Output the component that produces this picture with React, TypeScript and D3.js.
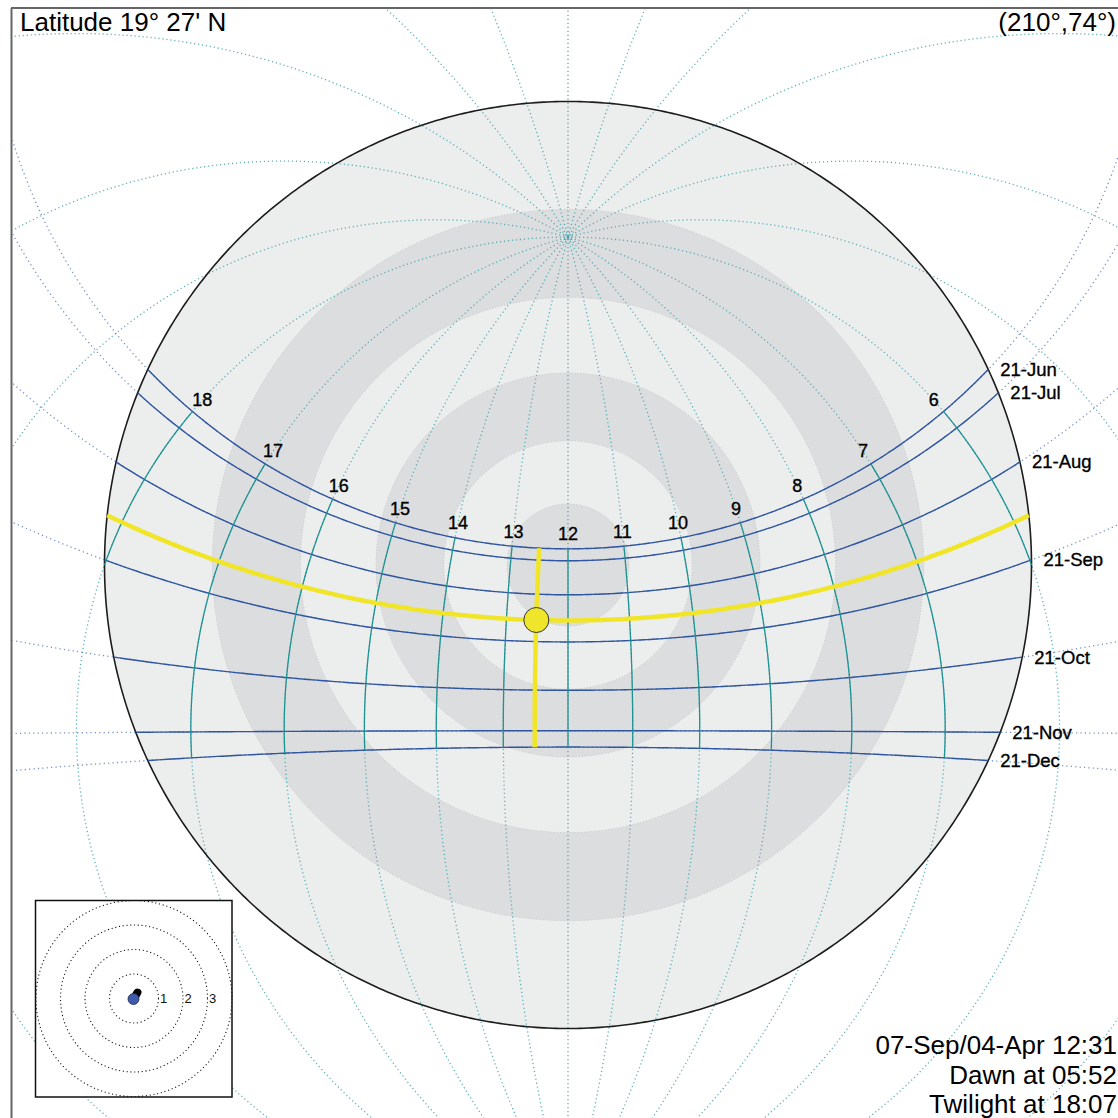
import React from "react";
import * as d3 from "d3";

// Site latitude: 19° 27' N
const LATITUDE = 19 + 27 / 60;

// Sun-path date lines and their solar declinations (degrees)
const DATE_LABELS = ["21-Jun", "21-Jul", "21-Aug", "21-Sep", "21-Oct", "21-Nov", "21-Dec"];
const DATE_DECLINATIONS = [23.44, 20.5, 12.1, 0.6, -10.8, -19.9, -23.44];

// Labelled solar hours and the full 24-hour grid of hour circles
const HOUR_LABELS = [6, 7, 8, 9, 10, 11, 12, 13, 14, 15, 16, 17, 18];
const GRID_HOURS = d3.range(0, 24);

// Altitude bands, as zenith distances (degrees), alternating shade from the horizon inwards
const BAND_ZENITH_DISTANCES = [90, 75, 60, 45, 30, 15];

// Selected day and time
const SELECTED_DAY_LABEL = "07-Sep/04-Apr";
const SELECTED_DECLINATION = 5.8;
const SELECTED_TIME = "12:31";
const DAWN_TIME = "05:52";
const TWILIGHT_TIME = "18:07";

// Shadow-length rings of the inset (multiples of the stick height)
const SHADOW_RINGS = [1, 2, 3, 4];
const SHADOW_RING_LABELS = [1, 2, 3];

const FONT = "'Liberation Sans', Arial, Helvetica, sans-serif";

type Pt = { x: number; y: number; ok: boolean };

export default function App() {
  const W = 1118;
  const H = 1118;
  const CX = 568;
  const CY = 565;
  const R = 463.5;
  const toRad = Math.PI / 180;
  const toDeg = 180 / Math.PI;

  const zenith: [number, number] = [0, LATITUDE];
  // Stereographic projection of the celestial sphere centred on the zenith, north up
  const projection = d3
    .geoStereographic()
    .rotate([0, -LATITUDE])
    .scale(R)
    .translate([CX, CY]);
  const geoPath = d3.geoPath(projection);

  // hour angle (deg, + west) & declination -> screen point
  const sky = (ha: number, dec: number, limit = 172): Pt => {
    const ll: [number, number] = [-ha, dec];
    const dist = d3.geoDistance(ll, zenith) * toDeg;
    const p = projection(ll) as [number, number];
    return { x: p[0], y: p[1], ok: dist < limit && isFinite(p[0]) && isFinite(p[1]) };
  };
  const line = d3
    .line<Pt>()
    .defined((d) => d.ok)
    .x((d) => d.x)
    .y((d) => d.y);

  const tanLat = Math.tan(LATITUDE * toRad);
  const halfDay = (dec: number) =>
    Math.acos(Math.max(-1, Math.min(1, -tanLat * Math.tan(dec * toRad)))) * toDeg;
  const horizonDec = (ha: number) => Math.atan(-Math.cos(ha * toRad) / tanLat) * toDeg;
  const hourAngle = (h: number) => 15 * (h - 12);

  const decMax = d3.max(DATE_DECLINATIONS) as number;
  const decMin = d3.min(DATE_DECLINATIONS) as number;

  const sampleDay = (dec: number) => {
    const h0 = halfDay(dec);
    return d3.range(0, 241).map((i) => sky(-h0 + (2 * h0 * i) / 240, dec));
  };
  const sampleHour = (ha: number) => {
    const lo = Math.max(decMin, horizonDec(ha));
    return d3.range(0, 121).map((i) => sky(ha, lo + ((decMax - lo) * i) / 120));
  };

  // dotted full circles
  const dottedHours = GRID_HOURS.map((h) =>
    line(d3.range(-90, 90.01, 0.5).map((dec) => sky(hourAngle(h), dec)))
  );
  const dottedDays = DATE_DECLINATIONS.map((dec) =>
    line(d3.range(-180, 180.01, 0.5).map((ha) => sky(ha, dec)))
  );

  // solid above-horizon parts
  const solidDays = DATE_DECLINATIONS.map((dec) => line(sampleDay(dec)));
  const solidHours = HOUR_LABELS.map((h) => line(sampleHour(hourAngle(h))));

  // hour labels sit just beyond the June line, along each hour circle
  const hourLabelPos = HOUR_LABELS.map((h) => {
    const p1 = sky(hourAngle(h), decMax);
    const p2 = sky(hourAngle(h), decMax + 1);
    const dx = p2.x - p1.x;
    const dy = p2.y - p1.y;
    const n = Math.hypot(dx, dy) || 1;
    return { h, x: p1.x + (15 * dx) / n, y: p1.y + (15 * dy) / n };
  });

  // date labels at the sunrise point of each line
  const dateLabelPos = DATE_DECLINATIONS.map((dec, i) => {
    const p = sky(-halfDay(dec), dec);
    return { label: DATE_LABELS[i], x: p.x + 12, y: p.y };
  });

  // selected day/time
  const [hh, mm] = SELECTED_TIME.split(":").map(Number);
  const selHa = hourAngle(hh + mm / 60);
  const selDayPath = line(sampleDay(SELECTED_DECLINATION));
  const selHourPath = line(sampleHour(selHa));
  const sun = sky(selHa, SELECTED_DECLINATION);
  const sunAlt = 90 - d3.geoDistance([-selHa, SELECTED_DECLINATION], zenith) * toDeg;
  const sunAz = ((Math.atan2(sun.x - CX, -(sun.y - CY)) * toDeg) + 360) % 360;
  const sunText = `(${Math.round(sunAz)}°,${Math.round(sunAlt)}°)`;

  // inset: shadow of a unit stick
  const IX = 134;
  const IY = 998.5;
  const ringScale = d3.scaleLinear().domain([0, 1]).range([0, 24.5]);
  const shadowLen = 1 / Math.tan(sunAlt * toRad);
  const shadowAz = (sunAz + 180) * toRad;
  const shadowEnd = {
    x: IX + ringScale(shadowLen) * Math.sin(shadowAz),
    y: IY - ringScale(shadowLen) * Math.cos(shadowAz),
  };

  const LIGHT = "#eceeed";
  const SHADE = "#dcdddf";

  return (
    <svg
      width={W}
      height={H}
      viewBox={`0 0 ${W} ${H}`}
      style={{ position: "absolute", left: 0, top: 0, background: "#fff", fontFamily: FONT }}
    >
      <defs>
        <clipPath id="frame-clip">
          <rect x={12.5} y={9} width={W} height={H} />
        </clipPath>
      </defs>
      <rect x={0} y={0} width={W} height={H} fill="#fff" />

      <g clipPath="url(#frame-clip)">
        {/* altitude bands */}
        {BAND_ZENITH_DISTANCES.map((zd, i) => (
          <path
            key={`band-${zd}`}
            d={geoPath(d3.geoCircle().center(zenith).radius(zd).precision(0.5)()) || ""}
            fill={i % 2 === 0 ? LIGHT : SHADE}
            stroke={i === 0 ? "none" : "#c6c7c9"}
            strokeWidth={1}
            strokeDasharray="1 2"
          />
        ))}

        {/* dotted hour circles */}
        {dottedHours.map((d, i) => (
          <path
            key={`dh-${i}`}
            d={d || ""}
            fill="none"
            stroke="#43a1aa"
            strokeWidth={1.3}
            strokeDasharray="1.2 2.8"
            opacity={0.85}
          />
        ))}
        {/* dotted declination circles */}
        {dottedDays.map((d, i) => (
          <path
            key={`dd-${i}`}
            d={d || ""}
            fill="none"
            stroke="#5a7bbb"
            strokeWidth={1.3}
            strokeDasharray="1.2 3.2"
            opacity={0.85}
          />
        ))}

        {/* horizon */}
        <path
          d={geoPath(d3.geoCircle().center(zenith).radius(90).precision(0.5)()) || ""}
          fill="none"
          stroke="#1c1c1c"
          strokeWidth={1.6}
        />

        {/* sun paths */}
        {solidDays.map((d, i) => (
          <path key={`sd-${i}`} d={d || ""} fill="none" stroke="#3056a0" strokeWidth={1.4} />
        ))}
        {/* hour lines */}
        {solidHours.map((d, i) => (
          <path key={`sh-${i}`} d={d || ""} fill="none" stroke="#1f9292" strokeWidth={1.3} />
        ))}

        {/* selected day and time */}
        <path d={selDayPath || ""} fill="none" stroke="#f1e527" strokeWidth={4.5} />
        <path d={selHourPath || ""} fill="none" stroke="#f1e527" strokeWidth={4.5} />
        <circle cx={sun.x} cy={sun.y} r={12.5} fill="#efe52a" stroke="#333" strokeWidth={1} />

        {/* labels */}
        {hourLabelPos.map((p) => (
          <text
            key={`hl-${p.h}`}
            x={p.x}
            y={p.y}
            dy="0.35em"
            textAnchor="middle"
            fontSize={18}
            fill="#000"
            stroke="#000"
            strokeWidth={0.35}
          >
            {p.h}
          </text>
        ))}
        {dateLabelPos.map((p) => (
          <text
            key={`dl-${p.label}`}
            x={p.x}
            y={p.y}
            dy="0.35em"
            fontSize={18.5}
            fill="#000"
            stroke="#000"
            strokeWidth={0.35}
          >
            {p.label}
          </text>
        ))}
      </g>

      {/* frame edges */}
      <line x1={11.5} y1={8} x2={11.5} y2={H} stroke="#666" strokeWidth={2} />
      <line x1={11} y1={8} x2={W} y2={8} stroke="#666" strokeWidth={2} />

      {/* inset: shadow length */}
      <rect x={35.5} y={900.5} width={196.5} height={196.5} fill="#fff" stroke="#111" strokeWidth={1.5} />
      {SHADOW_RINGS.map((k) => (
        <circle
          key={`ring-${k}`}
          cx={IX}
          cy={IY}
          r={ringScale(k)}
          fill="none"
          stroke="#111"
          strokeWidth={1.1}
          strokeDasharray="1.1 2.7"
        />
      ))}
      {SHADOW_RING_LABELS.map((k) => (
        <text key={`rl-${k}`} x={IX + ringScale(k) + 1.5} y={IY} dy="0.35em" fontSize={13} fill="#111">
          {k}
        </text>
      ))}
      <line
        x1={IX}
        y1={IY}
        x2={shadowEnd.x}
        y2={shadowEnd.y}
        stroke="#000"
        strokeWidth={8}
        strokeLinecap="round"
      />
      <circle cx={IX - 0.5} cy={IY + 0.5} r={5.5} fill="#3d5ba9" stroke="#1d2b57" strokeWidth={0.8} />

      {/* captions */}
      <text x={20} y={31} fontSize={26} fill="#000">
        Latitude 19° 27' N
      </text>
      <text x={1116} y={31} fontSize={26} fill="#000" textAnchor="end">
        {sunText}
      </text>
      <text x={1117} y={1054} fontSize={26} fill="#000" textAnchor="end">
        {`${SELECTED_DAY_LABEL} ${SELECTED_TIME}`}
      </text>
      <text x={1117} y={1084} fontSize={26} fill="#000" textAnchor="end">
        {`Dawn at ${DAWN_TIME}`}
      </text>
      <text x={1117} y={1113} fontSize={26} fill="#000" textAnchor="end">
        {`Twilight at ${TWILIGHT_TIME}`}
      </text>
    </svg>
  );
}
